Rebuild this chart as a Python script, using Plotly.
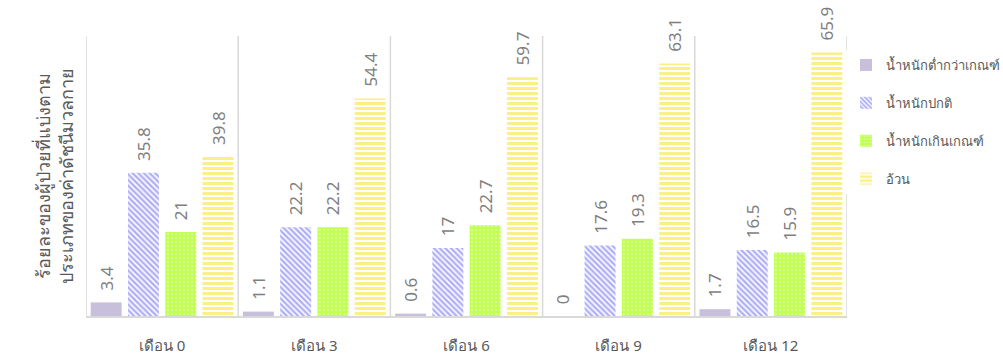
import plotly.graph_objects as go

categories = ["เดือน 0", "เดือน 3", "เดือน 6", "เดือน 9", "เดือน 12"]
series_names = ["น้ำหนักต่ำกว่าเกณฑ์", "น้ำหนักปกติ", "น้ำหนักเกินเกณฑ์", "อ้วน"]
underweight = [3.4, 1.1, 0.6, 0, 1.7]
normal = [35.8, 22.2, 17, 17.6, 16.5]
overweight = [21, 22.2, 22.7, 19.3, 15.9]
obese = [39.8, 54.4, 59.7, 63.1, 65.9]
y_title = "ร้อยละของผู้ป่วยที่แบ่งตาม<br>ประเภทของค่าดัชนีมวลกาย"

FONT = "Noto Sans, Open Sans, sans-serif"
LABEL_COLOR = "#7f7f7f"

styles = [
    dict(color="#C8BFDC", pattern=dict(shape="")),
    dict(color="#6060EE", pattern=dict(shape="\\", fgcolor="#6060EE", bgcolor="#ffffff", size=4, solidity=0.6)),
    dict(color="#C2FF55", pattern=dict(shape=".", fgcolor="#ffffff", bgcolor="#C2FF55", size=4, solidity=0.2)),
    dict(color="#F8E10F", pattern=dict(shape="-", fgcolor="#F8E10F", bgcolor="#ffffff", size=5, solidity=0.6)),
]

fig = go.Figure()
for i, (name, vals) in enumerate(zip(series_names, [underweight, normal, overweight, obese])):
    st = styles[i]
    fig.add_trace(go.Bar(
        x=categories, y=vals, name=name,
        marker=dict(color=st["color"], line=dict(width=0), pattern=st["pattern"]),
        text=["\u00a0\u00a0" + str(v) for v in vals], textposition="outside", textangle=-90,
        textfont=dict(size=17, color=LABEL_COLOR, family=FONT),
        cliponaxis=False, constraintext="none",
        legendgroup=name,
    ))

shapes = []
for k in range(len(categories) + 1):
    shapes.append(dict(type="line", xref="x", yref="paper", x0=k - 0.5, x1=k - 0.5, y0=0, y1=1,
                       line=dict(color="#D9D9D9", width=1.5), layer="below"))

fig.update_layout(
    width=1003, height=356,
    margin=dict(l=86, r=156, t=36, b=40, autoexpand=False),
    paper_bgcolor="white", plot_bgcolor="white",
    barmode="group", bargap=0.02, bargroupgap=0.17,
    font=dict(family=FONT, color="#595959"),
    shapes=shapes,
    showlegend=True,
    legend=dict(xref="container", yref="container", x=846 / 1003, y=1 - 50 / 356,
                xanchor="left", yanchor="top",
                font=dict(size=13, color="#595959", family=FONT),
                tracegroupgap=18, traceorder="grouped", itemwidth=30),
    xaxis=dict(showgrid=False, showline=True, linecolor="#D9D9D9", linewidth=1.5,
               ticks="", ticklabelstandoff=15, automargin=False,
               tickfont=dict(size=15, color="#595959", family=FONT),
               range=[-0.5, 4.5]),
    yaxis=dict(range=[0, 70], showgrid=False, showticklabels=False, zeroline=False, ticks="",
               automargin=False,
               title=dict(text=y_title, font=dict(size=18, color="#595959", family=FONT), standoff=6)),
)

fig.write_html("out.html")
